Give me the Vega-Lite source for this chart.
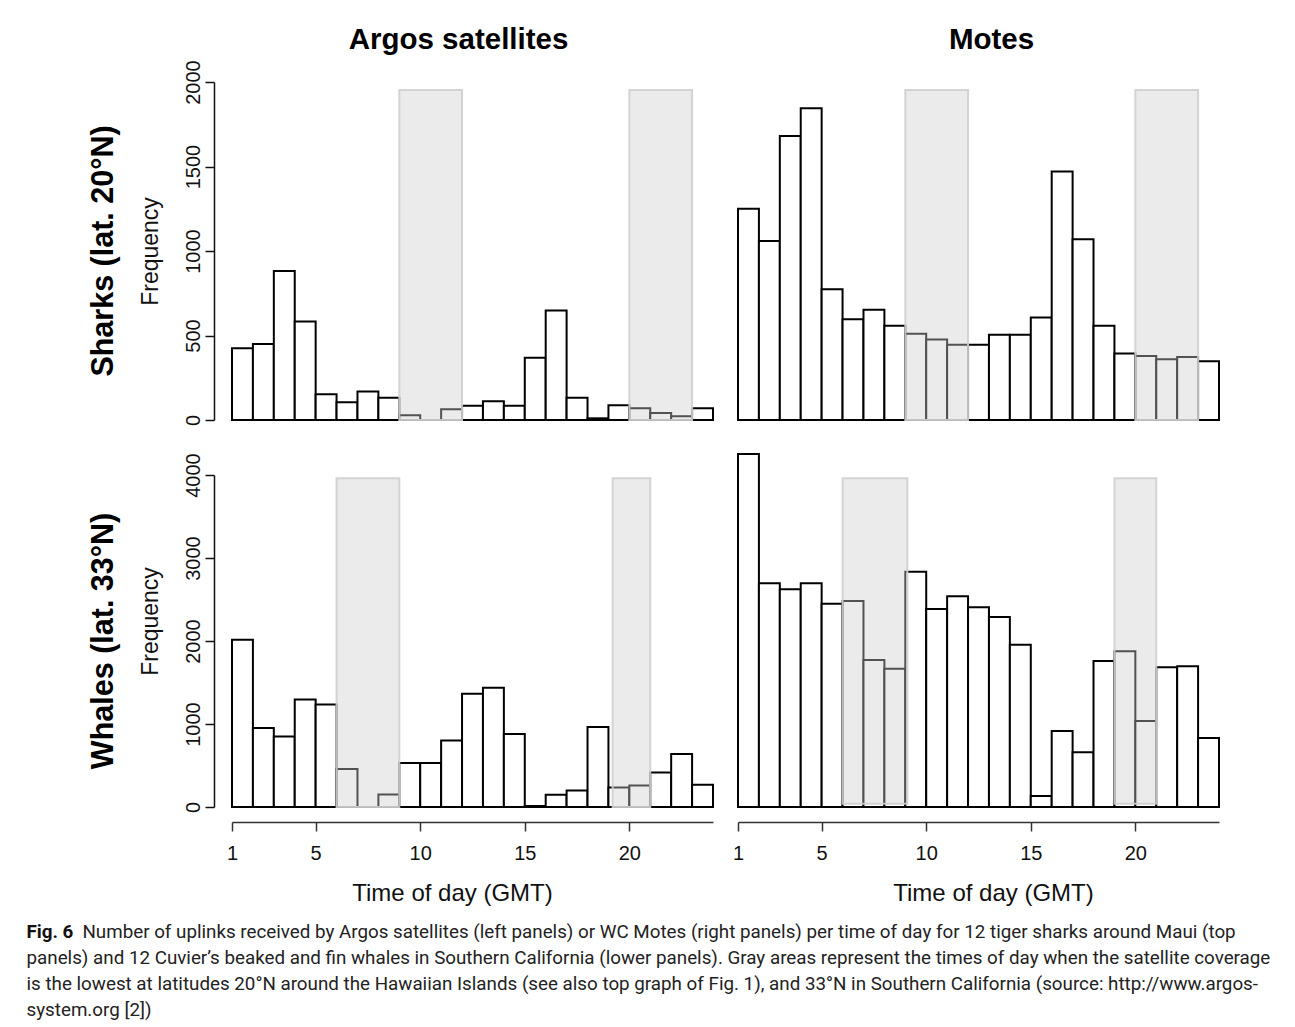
{
  "$schema": "https://vega.github.io/schema/vega-lite/v6.json",
  "background": "white",
  "padding": {"left": 26, "top": 24, "right": 10, "bottom": 8},
  "config": {"view": {"stroke": null}, "font": "Liberation Sans", "axis": {"grid": false}},
  "data": {"values": [
    {"panel":"TL","kind":"bar","start":1,"end":2,"value":425,"low":0},
    {"panel":"TL","kind":"bar","start":2,"end":3,"value":449,"low":0},
    {"panel":"TL","kind":"bar","start":3,"end":4,"value":881,"low":0},
    {"panel":"TL","kind":"bar","start":4,"end":5,"value":583,"low":0},
    {"panel":"TL","kind":"bar","start":5,"end":6,"value":152,"low":0},
    {"panel":"TL","kind":"bar","start":6,"end":7,"value":105,"low":0},
    {"panel":"TL","kind":"bar","start":7,"end":8,"value":168,"low":0},
    {"panel":"TL","kind":"bar","start":8,"end":9,"value":132,"low":0},
    {"panel":"TL","kind":"bar","start":9,"end":10,"value":28,"low":0},
    {"panel":"TL","kind":"bar","start":10,"end":11,"value":0,"low":0},
    {"panel":"TL","kind":"bar","start":11,"end":12,"value":63,"low":0},
    {"panel":"TL","kind":"bar","start":12,"end":13,"value":85,"low":0},
    {"panel":"TL","kind":"bar","start":13,"end":14,"value":111,"low":0},
    {"panel":"TL","kind":"bar","start":14,"end":15,"value":85,"low":0},
    {"panel":"TL","kind":"bar","start":15,"end":16,"value":368,"low":0},
    {"panel":"TL","kind":"bar","start":16,"end":17,"value":648,"low":0},
    {"panel":"TL","kind":"bar","start":17,"end":18,"value":132,"low":0},
    {"panel":"TL","kind":"bar","start":18,"end":19,"value":10,"low":0},
    {"panel":"TL","kind":"bar","start":19,"end":20,"value":87,"low":0},
    {"panel":"TL","kind":"bar","start":20,"end":21,"value":69,"low":0},
    {"panel":"TL","kind":"bar","start":21,"end":22,"value":41,"low":0},
    {"panel":"TL","kind":"bar","start":22,"end":23,"value":22,"low":0},
    {"panel":"TL","kind":"bar","start":23,"end":24,"value":69,"low":0},
    {"panel":"TL","kind":"gray","start":9,"end":12,"value":1953,"low":0},
    {"panel":"TL","kind":"gray","start":20,"end":23,"value":1953,"low":0},
    {"panel":"TR","kind":"bar","start":1,"end":2,"value":1250,"low":0},
    {"panel":"TR","kind":"bar","start":2,"end":3,"value":1059,"low":0},
    {"panel":"TR","kind":"bar","start":3,"end":4,"value":1680,"low":0},
    {"panel":"TR","kind":"bar","start":4,"end":5,"value":1844,"low":0},
    {"panel":"TR","kind":"bar","start":5,"end":6,"value":773,"low":0},
    {"panel":"TR","kind":"bar","start":6,"end":7,"value":596,"low":0},
    {"panel":"TR","kind":"bar","start":7,"end":8,"value":653,"low":0},
    {"panel":"TR","kind":"bar","start":8,"end":9,"value":558,"low":0},
    {"panel":"TR","kind":"bar","start":9,"end":10,"value":511,"low":0},
    {"panel":"TR","kind":"bar","start":10,"end":11,"value":477,"low":0},
    {"panel":"TR","kind":"bar","start":11,"end":12,"value":446,"low":0},
    {"panel":"TR","kind":"bar","start":12,"end":13,"value":446,"low":0},
    {"panel":"TR","kind":"bar","start":13,"end":14,"value":505,"low":0},
    {"panel":"TR","kind":"bar","start":14,"end":15,"value":505,"low":0},
    {"panel":"TR","kind":"bar","start":15,"end":16,"value":606,"low":0},
    {"panel":"TR","kind":"bar","start":16,"end":17,"value":1471,"low":0},
    {"panel":"TR","kind":"bar","start":17,"end":18,"value":1069,"low":0},
    {"panel":"TR","kind":"bar","start":18,"end":19,"value":558,"low":0},
    {"panel":"TR","kind":"bar","start":19,"end":20,"value":394,"low":0},
    {"panel":"TR","kind":"bar","start":20,"end":21,"value":379,"low":0},
    {"panel":"TR","kind":"bar","start":21,"end":22,"value":359,"low":0},
    {"panel":"TR","kind":"bar","start":22,"end":23,"value":373,"low":0},
    {"panel":"TR","kind":"bar","start":23,"end":24,"value":347,"low":0},
    {"panel":"TR","kind":"gray","start":9,"end":12,"value":1953,"low":0},
    {"panel":"TR","kind":"gray","start":20,"end":23,"value":1953,"low":0},
    {"panel":"BL","kind":"bar","start":1,"end":2,"value":2014,"low":0},
    {"panel":"BL","kind":"bar","start":2,"end":3,"value":953,"low":0},
    {"panel":"BL","kind":"bar","start":3,"end":4,"value":849,"low":0},
    {"panel":"BL","kind":"bar","start":4,"end":5,"value":1296,"low":0},
    {"panel":"BL","kind":"bar","start":5,"end":6,"value":1236,"low":0},
    {"panel":"BL","kind":"bar","start":6,"end":7,"value":459,"low":0},
    {"panel":"BL","kind":"bar","start":7,"end":8,"value":0,"low":0},
    {"panel":"BL","kind":"bar","start":8,"end":9,"value":152,"low":0},
    {"panel":"BL","kind":"bar","start":9,"end":10,"value":530,"low":0},
    {"panel":"BL","kind":"bar","start":10,"end":11,"value":530,"low":0},
    {"panel":"BL","kind":"bar","start":11,"end":12,"value":802,"low":0},
    {"panel":"BL","kind":"bar","start":12,"end":13,"value":1364,"low":0},
    {"panel":"BL","kind":"bar","start":13,"end":14,"value":1436,"low":0},
    {"panel":"BL","kind":"bar","start":14,"end":15,"value":881,"low":0},
    {"panel":"BL","kind":"bar","start":15,"end":16,"value":12,"low":0},
    {"panel":"BL","kind":"bar","start":16,"end":17,"value":148,"low":0},
    {"panel":"BL","kind":"bar","start":17,"end":18,"value":199,"low":0},
    {"panel":"BL","kind":"bar","start":18,"end":19,"value":965,"low":0},
    {"panel":"BL","kind":"bar","start":19,"end":20,"value":235,"low":0},
    {"panel":"BL","kind":"bar","start":20,"end":21,"value":259,"low":0},
    {"panel":"BL","kind":"bar","start":21,"end":22,"value":415,"low":0},
    {"panel":"BL","kind":"bar","start":22,"end":23,"value":638,"low":0},
    {"panel":"BL","kind":"bar","start":23,"end":24,"value":267,"low":0},
    {"panel":"BL","kind":"gray","start":6,"end":9,"value":3960,"low":0},
    {"panel":"BL","kind":"gray","start":19.2,"end":21,"value":3960,"low":0},
    {"panel":"BR","kind":"bar","start":1,"end":2,"value":4253,"low":0},
    {"panel":"BR","kind":"bar","start":2,"end":3,"value":2695,"low":0},
    {"panel":"BR","kind":"bar","start":3,"end":4,"value":2622,"low":0},
    {"panel":"BR","kind":"bar","start":4,"end":5,"value":2695,"low":0},
    {"panel":"BR","kind":"bar","start":5,"end":6,"value":2450,"low":0},
    {"panel":"BR","kind":"bar","start":6,"end":7,"value":2482,"low":0},
    {"panel":"BR","kind":"bar","start":7,"end":8,"value":1771,"low":0},
    {"panel":"BR","kind":"bar","start":8,"end":9,"value":1667,"low":0},
    {"panel":"BR","kind":"bar","start":9,"end":10,"value":2835,"low":0},
    {"panel":"BR","kind":"bar","start":10,"end":11,"value":2386,"low":0},
    {"panel":"BR","kind":"bar","start":11,"end":12,"value":2538,"low":0},
    {"panel":"BR","kind":"bar","start":12,"end":13,"value":2406,"low":0},
    {"panel":"BR","kind":"bar","start":13,"end":14,"value":2289,"low":0},
    {"panel":"BR","kind":"bar","start":14,"end":15,"value":1956,"low":0},
    {"panel":"BR","kind":"bar","start":15,"end":16,"value":133,"low":0},
    {"panel":"BR","kind":"bar","start":16,"end":17,"value":916,"low":0},
    {"panel":"BR","kind":"bar","start":17,"end":18,"value":659,"low":0},
    {"panel":"BR","kind":"bar","start":18,"end":19,"value":1759,"low":0},
    {"panel":"BR","kind":"bar","start":19,"end":20,"value":1876,"low":0},
    {"panel":"BR","kind":"bar","start":20,"end":21,"value":1036,"low":0},
    {"panel":"BR","kind":"bar","start":21,"end":22,"value":1683,"low":0},
    {"panel":"BR","kind":"bar","start":22,"end":23,"value":1695,"low":0},
    {"panel":"BR","kind":"bar","start":23,"end":24,"value":831,"low":0},
    {"panel":"BR","kind":"gray","start":6,"end":9.1,"value":3960,"low":40},
    {"panel":"BR","kind":"gray","start":19,"end":21,"value":3960,"low":40}
  ]},
  "title": {
    "text": "Fig. 6",
    "subtitle": [
      "\u200b\u00a0\u00a0\u00a0\u00a0\u00a0\u00a0\u00a0\u00a0\u00a0\u00a0\u00a0\u00a0Number of uplinks received by Argos satellites (left panels) or WC Motes (right panels) per time of day for 12 tiger sharks around Maui (top",
      "panels) and 12 Cuvier’s beaked and fin whales in Southern California (lower panels). Gray areas represent the times of day when the satellite coverage",
      "is the lowest at latitudes 20°N around the Hawaiian Islands (see also top graph of Fig. 1), and 33°N in Southern California (source: http://www.argos-",
      "system.org [2])"
    ],
    "orient": "bottom", "anchor": "start", "frame": "bounds",
    "font": "Roboto", "fontSize": 18.8, "fontWeight": "bold", "color": "#111111",
    "subtitleFont": "Roboto", "subtitleFontSize": 18.8, "subtitleColor": "#222222",
    "subtitleLineHeight": 26, "subtitlePadding": -18.8, "offset": 18, "dx": -62
  },
  "columns": 2,
  "bounds": "flush",
  "spacing": {"row": 55, "column": 25},
  "concat": [
    {
      "width": 481, "height": 338,
      "title": {"text": "Sharks (lat. 20°N)", "orient": "left", "anchor": "middle", "fontSize": 30.5, "fontWeight": "bold", "font": "Liberation Sans", "color": "black", "offset": 20},
      "transform": [{"filter": "datum.panel == 'TL'"}],
      "encoding": {
        "x": {"field": "start", "type": "quantitative", "scale": {"domain": [1, 24], "nice": false, "zero": false},
              "axis": {"orient": "top", "domain": false, "ticks": false, "labels": false, "title": "Argos satellites", "titleFontSize": 29.5, "titleFontWeight": "bold", "titleFont": "Liberation Sans", "titleColor": "black", "titlePadding": 28, "titleX": 226}},
        "x2": {"field": "end"},
        "y": {"field": "value", "type": "quantitative", "scale": {"domain": [0, 2000], "nice": false},
              "axis": {"values": [0, 500, 1000, 1500, 2000], "format": "d", "labelAngle": -90, "labelAlign": "center", "labelBaseline": "bottom", "labelFontSize": 20, "labelFont": "Liberation Sans", "labelColor": "#111111", "labelPadding": 2, "labelFlush": false, "labelOverlap": false, "tickSize": 9, "tickWidth": 1.5, "tickColor": "#111111", "domainColor": "#111111", "domainWidth": 1.5, "offset": 18, "title": "Frequency", "titleFontSize": 23, "titleFontWeight": "normal", "titleFont": "Liberation Sans", "titleColor": "#111111", "titlePadding": 21}},
        "y2": {"field": "low"}
      },
      "layer": [
        {"transform": [{"filter": "datum.kind == 'bar'"}], "mark": {"type": "rect", "fill": "white", "stroke": "black", "strokeWidth": 2}},
        {"transform": [{"filter": "datum.kind == 'gray'"}], "mark": {"type": "rect", "fill": "#cdcdcd", "fillOpacity": 0.4, "stroke": "#cfcfcf", "strokeWidth": 2, "strokeOpacity": 0.9}}
      ]
    },
    {
      "width": 481, "height": 338,
      "transform": [{"filter": "datum.panel == 'TR'"}],
      "encoding": {
        "x": {"field": "start", "type": "quantitative", "scale": {"domain": [1, 24], "nice": false, "zero": false},
              "axis": {"orient": "top", "domain": false, "ticks": false, "labels": false, "title": "Motes", "titleFontSize": 29.5, "titleFontWeight": "bold", "titleFont": "Liberation Sans", "titleColor": "black", "titlePadding": 28, "titleX": 253}},
        "x2": {"field": "end"},
        "y": {"field": "value", "type": "quantitative", "scale": {"domain": [0, 2000], "nice": false}, "axis": null},
        "y2": {"field": "low"}
      },
      "layer": [
        {"transform": [{"filter": "datum.kind == 'bar'"}], "mark": {"type": "rect", "fill": "white", "stroke": "black", "strokeWidth": 2}},
        {"transform": [{"filter": "datum.kind == 'gray'"}], "mark": {"type": "rect", "fill": "#cdcdcd", "fillOpacity": 0.4, "stroke": "#cfcfcf", "strokeWidth": 2, "strokeOpacity": 0.9}}
      ]
    },
    {
      "width": 481, "height": 332,
      "title": {"text": "Whales (lat. 33°N)", "orient": "left", "anchor": "middle", "fontSize": 30.5, "fontWeight": "bold", "font": "Liberation Sans", "color": "black", "offset": 20},
      "transform": [{"filter": "datum.panel == 'BL'"}],
      "encoding": {
        "x": {"field": "start", "type": "quantitative", "scale": {"domain": [1, 24], "nice": false, "zero": false},
              "axis": {"orient": "bottom", "values": [1, 5, 10, 15, 20], "offset": 15, "tickSize": 9, "tickWidth": 1.5, "tickColor": "#333333", "domainColor": "#333333", "domainWidth": 1.5, "labelFontSize": 20, "labelFont": "Liberation Sans", "labelColor": "#111111", "labelPadding": 12, "labelFlush": false, "title": "Time of day (GMT)", "titleFontSize": 24, "titleFontWeight": "normal", "titleFont": "Liberation Sans", "titleColor": "#111111", "titlePadding": 18, "titleX": 220}},
        "x2": {"field": "end"},
        "y": {"field": "value", "type": "quantitative", "scale": {"domain": [0, 4000], "nice": false},
              "axis": {"values": [0, 1000, 2000, 3000, 4000], "format": "d", "labelAngle": -90, "labelAlign": "center", "labelBaseline": "bottom", "labelFontSize": 20, "labelFont": "Liberation Sans", "labelColor": "#111111", "labelPadding": 2, "labelFlush": false, "labelOverlap": false, "tickSize": 9, "tickWidth": 1.5, "tickColor": "#111111", "domainColor": "#111111", "domainWidth": 1.5, "offset": 18, "title": "Frequency", "titleFontSize": 23, "titleFontWeight": "normal", "titleFont": "Liberation Sans", "titleColor": "#111111", "titlePadding": 21, "titleY": 146}},
        "y2": {"field": "low"}
      },
      "layer": [
        {"transform": [{"filter": "datum.kind == 'bar'"}], "mark": {"type": "rect", "fill": "white", "stroke": "black", "strokeWidth": 2}},
        {"transform": [{"filter": "datum.kind == 'gray'"}], "mark": {"type": "rect", "fill": "#cdcdcd", "fillOpacity": 0.4, "stroke": "#cfcfcf", "strokeWidth": 2, "strokeOpacity": 0.9}}
      ]
    },
    {
      "width": 481, "height": 332,
      "transform": [{"filter": "datum.panel == 'BR'"}],
      "encoding": {
        "x": {"field": "start", "type": "quantitative", "scale": {"domain": [1, 24], "nice": false, "zero": false},
              "axis": {"orient": "bottom", "values": [1, 5, 10, 15, 20], "offset": 15, "tickSize": 9, "tickWidth": 1.5, "tickColor": "#333333", "domainColor": "#333333", "domainWidth": 1.5, "labelFontSize": 20, "labelFont": "Liberation Sans", "labelColor": "#111111", "labelPadding": 12, "labelFlush": false, "title": "Time of day (GMT)", "titleFontSize": 24, "titleFontWeight": "normal", "titleFont": "Liberation Sans", "titleColor": "#111111", "titlePadding": 18, "titleX": 255}},
        "x2": {"field": "end"},
        "y": {"field": "value", "type": "quantitative", "scale": {"domain": [0, 4000], "nice": false}, "axis": null},
        "y2": {"field": "low"}
      },
      "layer": [
        {"transform": [{"filter": "datum.kind == 'bar'"}], "mark": {"type": "rect", "fill": "white", "stroke": "black", "strokeWidth": 2}},
        {"transform": [{"filter": "datum.kind == 'gray'"}], "mark": {"type": "rect", "fill": "#cdcdcd", "fillOpacity": 0.4, "stroke": "#cfcfcf", "strokeWidth": 2, "strokeOpacity": 0.9}}
      ]
    }
  ]
}
